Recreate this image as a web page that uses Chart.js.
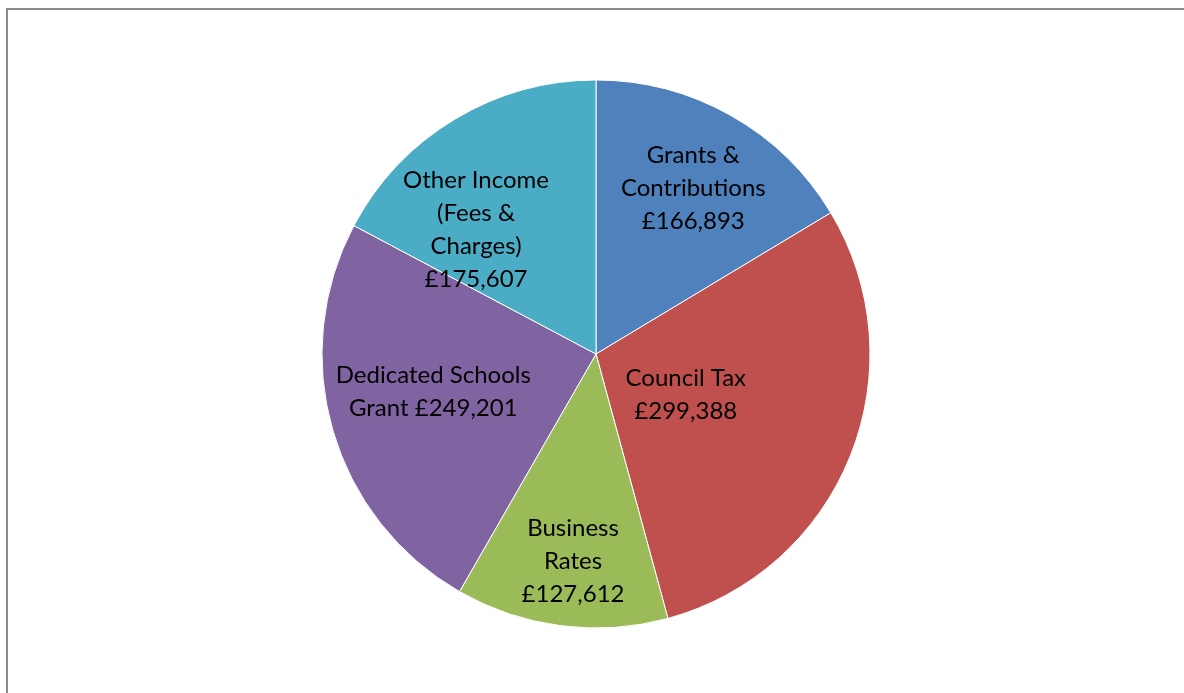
<!DOCTYPE html>
<html lang="en">
<head>
    <meta charset="UTF-8">
    <title>Income</title>
    <script src="https://cdn.jsdelivr.net/npm/chart.js@4.4.0/dist/chart.umd.min.js"></script>
    <style>
        html, body {
            margin: 0;
            padding: 0;
            background: #fff;
            overflow: hidden;
        }
        .wrap {
            position: relative;
            width: 1184px;
            height: 693px;
        }
        .frame {
            position: absolute;
            left: 6px;
            top: 8px;
            width: 1200px;
            height: 700px;
            border-left: 2px solid #8c8c8c;
            border-top: 2px solid #8c8c8c;
        }
        canvas {
            position: absolute;
            left: 0;
            top: 0;
        }
    </style>
</head>
<body>
    <div class="wrap">
        <div class="frame"></div>
        <canvas id="pie-chart" width="1184" height="693"></canvas>
    </div>

    <script>
        const categories = ["Grants & Contributions", "Council Tax", "Business Rates", "Dedicated Schools Grant", "Other Income (Fees & Charges)"];
        const amounts = [166893, 299388, 127612, 249201, 175607];
        const colours = ["#4F81BD", "#C0504D", "#9BBB59", "#8064A2", "#4BACC6"];
        // how each label is wrapped, like the original
        const labelLines = [
            ["Grants &", "Contributions"],
            ["Council Tax"],
            ["Business", "Rates"],
            ["Dedicated Schools", "Grant"],
            ["Other Income", "(Fees &", "Charges)"]
        ];

        // label spot: angle shift from slice middle (deg), distance as part of radius
        const labelSpot = [[1, 0.70], [2.6, 0.36], [-1, 0.76], [2.9, 0.61], [-13, 0.63]];

        function money(v) {
            return "\u00a3" + v.toLocaleString("en-GB");
        }

        const sliceLabels = {
            id: 'sliceLabels',
            afterDatasetsDraw(chart) {
                const ctx = chart.ctx;
                const meta = chart.getDatasetMeta(0);
                ctx.save();
                ctx.font = '24px Lato, "Open Sans", sans-serif';
                ctx.fillStyle = '#000';
                ctx.textAlign = 'center';
                ctx.textBaseline = 'middle';
                meta.data.forEach((arc, i) => {
                    const p = arc.getProps(['x', 'y', 'startAngle', 'endAngle', 'outerRadius'], true);
                    const mid = (p.startAngle + p.endAngle) / 2 + labelSpot[i][0] * Math.PI / 180;
                    const r = p.outerRadius * labelSpot[i][1];
                    const cx = p.x + Math.cos(mid) * r;
                    const cy = p.y + Math.sin(mid) * r;
                    let lines = labelLines[i].slice();
                    if (i == 3) {
                        lines[1] = lines[1] + " " + money(amounts[i]);
                    } else {
                        lines.push(money(amounts[i]));
                    }
                    const lh = 33;
                    const top = cy - (lines.length - 1) * lh / 2;
                    lines.forEach((t, k) => {
                        ctx.fillText(t, cx, top + k * lh);
                    });
                });
                ctx.restore();
            }
        };

        new Chart(document.getElementById("pie-chart"), {
            type: 'pie',
            data: {
                labels: categories,
                datasets: [{
                    data: amounts,
                    backgroundColor: colours,
                    borderColor: "#ffffff",
                    borderWidth: 1
                }]
            },
            options: {
                responsive: false,
                animation: false,
                radius: 274,
                layout: {
                    padding: { left: 322, right: 314, top: 80, bottom: 65 }
                },
                plugins: {
                    legend: { display: false },
                    tooltip: { enabled: false }
                }
            },
            plugins: [sliceLabels]
        });
    </script>
</body>
</html>
